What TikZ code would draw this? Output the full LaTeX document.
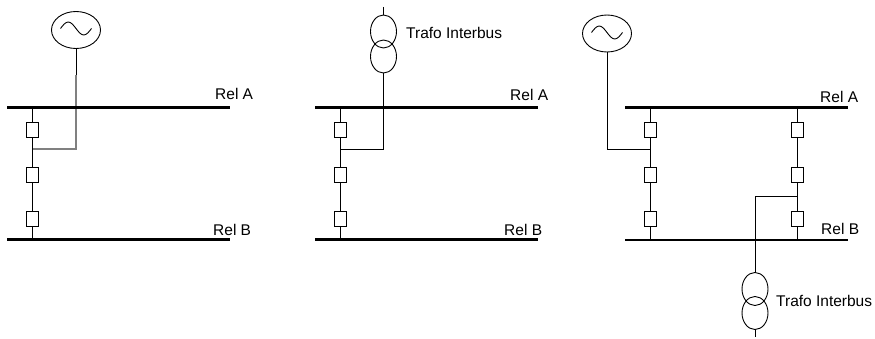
\documentclass[tikz,border=0pt]{standalone}
\usepackage{fontspec}
\setmainfont{Liberation Sans}
\usetikzlibrary{shapes.geometric}
\begin{document}
\begin{tikzpicture}[x=1pt,y=-1pt,
  bus/.style={line width=2.2pt},
  wire/.style={line width=0.9pt},
  gwire/.style={line width=1.5pt, draw=black!50},
  brk/.style={draw, fill=white, minimum width=12pt, minimum height=15pt, inner sep=0pt, line width=0.9pt},
  gen/.style={draw, ellipse, minimum width=49pt, minimum height=37pt, inner sep=0pt, line width=0.9pt},
  tr/.style={draw, ellipse, minimum width=26pt, minimum height=33pt, inner sep=0pt, line width=0.9pt},
  lbl/.style={font=\fontsize{15.5}{17}\selectfont, inner sep=0pt},
  wave/.style={line width=0.9pt}]
\useasboundingbox (0,0) rectangle (875,339);

% ---------------- Panel 1 ----------------
\coordinate (A1w) at (7,107.5);  \coordinate (A1e) at (230,107.5);
\coordinate (B1w) at (7,239.5);  \coordinate (B1e) at (230,239.5);
\coordinate (a1) at (32.5,107.5); \coordinate (b1) at (32.5,239.5);
\coordinate (j1) at (32.5,149);
\node[gen] (g1) at (76,30) {};
\draw[wave] ([xshift=-15.5pt,yshift=1.5pt]g1.center) sin ++(7.75pt,6.5pt) cos ++(7.75pt,-6.5pt) sin ++(7.75pt,-6.5pt) cos ++(7.75pt,6.5pt);
\draw[wire] (g1.south) -- ++(0,26);
\draw[gwire] ([yshift=-26pt]g1.south) |- (j1);
\draw[wire] (a1) -- (b1);
\node[brk] (s11) at (32.5,129.5) {};
\node[brk] (s12) at (32.5,174.5) {};
\node[brk] (s13) at (32.5,218.5) {};
\draw[bus] (A1w) -- (A1e);
\draw[bus] (B1w) -- (B1e);
\node[lbl, anchor=west] (lA1) at (215,93.5) {Rel A};
\node[lbl, anchor=west] (lB1) at (213,230) {Rel B};

% ---------------- Panel 2 ----------------
\coordinate (A2w) at (315,107.5); \coordinate (A2e) at (538,107.5);
\coordinate (B2w) at (315,239.5); \coordinate (B2e) at (538,239.5);
\coordinate (a2) at (340,107.5); \coordinate (b2) at (340,239.5);
\coordinate (j2) at (340,149);
\coordinate (t2top) at (383.5,7);
\node[tr] (t2a) at (383.5,31.5) {};
\node[tr] (t2b) at (383.5,56.5) {};
\draw[wire] (t2top) -- (t2a.north);
\draw[wire] (t2b.south) |- (j2);
\draw[wire] (a2) -- (b2);
\node[brk] (s21) at (340,129.5) {};
\node[brk] (s22) at (340,174.5) {};
\node[brk] (s23) at (340,218.5) {};
\draw[bus] (A2w) -- (A2e);
\draw[bus] (B2w) -- (B2e);
\node[lbl, anchor=west] (lT2) at (406,33) {Trafo Interbus};
\node[lbl, anchor=west] (lA2) at (510,95) {Rel A};
\node[lbl, anchor=west] (lB2) at (504,230) {Rel B};

% ---------------- Panel 3 ----------------
\coordinate (A3w) at (625,107.5); \coordinate (A3e) at (848,107.5);
\coordinate (B3w) at (625,240);   \coordinate (B3e) at (848,240);
\coordinate (a3) at (650.7,107.5); \coordinate (b3) at (650.7,240);
\coordinate (c3) at (797.7,107.5); \coordinate (d3) at (797.7,240);
\coordinate (j3) at (650.7,149);
\coordinate (k3) at (797.7,196);
\coordinate (t3bot) at (755,337);
\node[gen] (g3) at (607,33.5) {};
\draw[wave] ([xshift=-15.5pt,yshift=1pt]g3.center) sin ++(7.75pt,6.5pt) cos ++(7.75pt,-6.5pt) sin ++(7.75pt,-6.5pt) cos ++(7.75pt,6.5pt);
\draw[wire] (g3.south) |- (j3);
\node[tr] (t3a) at (755,289) {};
\node[tr] (t3b) at (755,313) {};
\draw[wire] (k3) -| (t3a.north);
\draw[wire] (t3b.south) -- (t3bot);
\draw[wire] (a3) -- (b3);
\draw[wire] (c3) -- (d3);
\node[brk] (s31) at (650.7,129.5) {};
\node[brk] (s32) at (650.7,174.5) {};
\node[brk] (s33) at (650.7,218.5) {};
\node[brk] (s34) at (797.7,129.5) {};
\node[brk] (s35) at (797.7,174.5) {};
\node[brk] (s36) at (797.7,218.5) {};
\draw[bus] (A3w) -- (A3e);
\draw[bus] (B3w) -- (B3e);
\node[lbl, anchor=west] (lT3) at (776,301) {Trafo Interbus};
\node[lbl, anchor=west] (lA3) at (820,97) {Rel A};
\node[lbl, anchor=west] (lB3) at (821,229) {Rel B};
\end{tikzpicture}
\end{document}
